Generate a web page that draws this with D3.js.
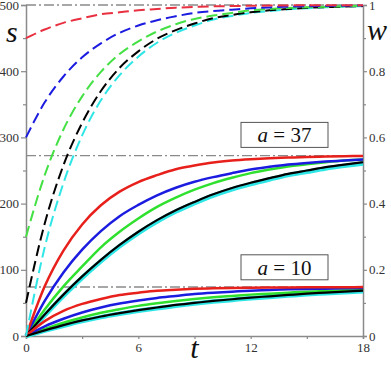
<!DOCTYPE html>
<html><head><meta charset="utf-8">
<script src="https://cdn.jsdelivr.net/npm/d3@7"></script>
<style>body{margin:0;background:#fff}svg{display:block}
svg text{font-family:"Liberation Serif","DejaVu Serif","Times New Roman",serif !important;}
</style>
</head><body>
<svg id="c" width="391" height="366"></svg>
<script>
const T = [0,1,2,3,4,5,6,7,8,9,10,11,12,13,14,15,16,17,18];
// s(t) dashed curves (left axis)
const sRed   = [450,463,473,480,486,489,492,494,496,497,498,498.4,498.8,499.1,499.4,499.5,499.6,499.7,499.8];
const sBlue  = [300,353,392,421,442,458,469,477,483,488,491,493,495,496.4,497.4,498.1,498.6,499,499.2];
const sGreen = [150,243,312,362,399,426,445,460,471,479,484,488,492,494,495.5,496.6,497.5,498.2,498.7];
const sBlack = [50,170,258,322,370,405,430,449,462,472,480,485,489,492,494,495.7,496.8,497.7,498.3];
const sCyan  = [0,134,231,303,356,394,422,443,458,469,478,483.5,488,491,493.5,495.2,496.5,497.5,498.1];
// w(t) solid curves, a = 37 (right axis)
const w37Red   = [0,0.150,0.258,0.337,0.395,0.436,0.465,0.486,0.504,0.515,0.524,0.530,0.534,0.537,0.539,0.541,0.542,0.543,0.544];
const w37Blue  = [0,0.106,0.192,0.261,0.317,0.362,0.396,0.425,0.448,0.466,0.480,0.492,0.503,0.511,0.518,0.523,0.527,0.530,0.533];
const w37Green = [0,0.080,0.150,0.210,0.268,0.315,0.355,0.390,0.418,0.442,0.462,0.478,0.492,0.503,0.512,0.519,0.525,0.530,0.533];
const w37Black = [0,0.065,0.125,0.180,0.230,0.275,0.315,0.350,0.380,0.405,0.428,0.447,0.463,0.477,0.490,0.500,0.510,0.518,0.525];
const w37Cyan  = [0,0.062,0.121,0.176,0.226,0.271,0.311,0.346,0.376,0.401,0.424,0.443,0.459,0.473,0.486,0.496,0.506,0.514,0.521];
// w(t) solid curves, a = 10
const w10Red   = [0,0.045,0.076,0.097,0.112,0.124,0.131,0.137,0.140,0.1425,0.144,0.145,0.1457,0.1463,0.1468,0.147,0.1473,0.1475,0.1477];
const w10Blue  = [0,0.029,0.052,0.071,0.086,0.098,0.107,0.115,0.121,0.127,0.131,0.134,0.137,0.139,0.141,0.142,0.143,0.144,0.145];
const w10Green = [0,0.021,0.040,0.056,0.070,0.081,0.091,0.099,0.106,0.112,0.117,0.121,0.125,0.128,0.131,0.134,0.136,0.138,0.140];
const w10Black = [0,0.017,0.033,0.047,0.059,0.069,0.078,0.086,0.094,0.100,0.106,0.111,0.116,0.120,0.124,0.128,0.131,0.134,0.137];
const w10Cyan  = [0,0.016,0.031,0.045,0.057,0.067,0.076,0.084,0.091,0.098,0.104,0.109,0.114,0.118,0.122,0.126,0.129,0.132,0.135];
const sLevels = [500];
const wLevels = [0.545, 0.148];
const xTicks = [0,6,12,18], xMinor = [3,9,15];
const sTicks = [0,100,200,300,400,500], sMinor = [50,150,250,350,450];
const wTicks = [0,0.2,0.4,0.6,0.8,1], wMinor = [0.1,0.3,0.5,0.7,0.9];
const labels = [{text:"37", w:0.6}, {text:"10", w:0.2}];

const svg = d3.select("#c");
const x = d3.scaleLinear([0,18],[26,363]);
const yS = d3.scaleLinear([0,500],[336,5]);
const yW = d3.scaleLinear([0,1],[336,5]);
const C = {red:"#e8201c", blue:"#1c1ce0", green:"#2fe02f", black:"#000", cyan:"#2fe6e6"};
const axisCol = "#8a8a8a";

function styleAxis(g){
  g.attr("font-family",null);
  g.select(".domain").attr("stroke",axisCol).attr("stroke-width",1.5);
  g.selectAll(".tick line").attr("stroke",axisCol).attr("stroke-width",1.2);
  g.selectAll(".tick text").attr("font-size",13).attr("fill","#333");
}
// axes
svg.append("g").attr("transform","translate(26,0)")
  .call(d3.axisLeft(yS).tickValues(sTicks).tickSize(5).tickPadding(2).tickFormat(d3.format("d"))).call(styleAxis);
svg.append("g").attr("transform","translate(26,0)")
  .call(d3.axisLeft(yS).tickValues(sMinor).tickSize(3).tickFormat("")).call(styleAxis)
  .select(".domain").remove();
svg.append("g").attr("transform","translate(363,0)")
  .call(d3.axisRight(yW).tickValues(wTicks).tickSize(4).tickPadding(2).tickFormat(d=>d===0||d===1?String(d):d3.format(".1f")(d))).call(styleAxis);
svg.append("g").attr("transform","translate(363,0)")
  .call(d3.axisRight(yW).tickValues(wMinor).tickSize(3).tickFormat("")).call(styleAxis)
  .select(".domain").remove();
svg.append("g").attr("transform","translate(0,336)")
  .call(d3.axisBottom(x).tickValues(xTicks).tickSize(3).tickPadding(4)).call(styleAxis);
svg.append("g").attr("transform","translate(0,336)")
  .call(d3.axisBottom(x).tickValues(xMinor).tickSize(3).tickFormat("")).call(styleAxis)
  .select(".domain").remove();

// dash-dot reference lines
const ddash = "10,3,2,3";
sLevels.forEach(v=>svg.append("line").attr("x1",x(0)).attr("x2",x(18)).attr("y1",yS(v)).attr("y2",yS(v))
  .attr("stroke",axisCol).attr("stroke-width",1.3).attr("stroke-dasharray",ddash));
wLevels.forEach(v=>svg.append("line").attr("x1",x(0)).attr("x2",x(18)).attr("y1",yW(v)).attr("y2",yW(v))
  .attr("stroke",axisCol).attr("stroke-width",1.3).attr("stroke-dasharray",ddash));

const lineS = d3.line().x((d,i)=>x(T[i])).y(d=>yS(d)).curve(d3.curveMonotoneX);
const lineW = d3.line().x((d,i)=>x(T[i])).y(d=>yW(d)).curve(d3.curveMonotoneX);

// solid w curves
[[w37Cyan,C.cyan,4.5],[w37Green,C.green,2.5],[w37Blue,C.blue,2.5],[w37Red,C.red,2.5],[w37Black,C.black,2.2],
 [w10Cyan,C.cyan,4.5],[w10Green,C.green,2.5],[w10Blue,C.blue,2.5],[w10Red,C.red,2.5],[w10Black,C.black,2.2]]
 .forEach(([d,c,w])=>svg.append("path").attr("d",lineW(d)).attr("fill","none").attr("stroke",c).attr("stroke-width",w));

// dashed s curves
[[sCyan,C.cyan],[sBlack,C.black],[sGreen,"#44e044"],[sBlue,C.blue],[sRed,"#e83040"]]
 .forEach(([d,c])=>svg.append("path").attr("d",lineS(d)).attr("fill","none").attr("stroke",c)
   .attr("stroke-width",2).attr("stroke-dasharray","11,5"));

// label boxes
labels.forEach(l=>{
  const cy = yW(l.w) - 2;
  svg.append("rect").attr("x",241).attr("y",cy-13).attr("width",87).attr("height",25)
    .attr("fill","#fff").attr("stroke","#555").attr("stroke-width",1);
  const t = svg.append("text").attr("x",284.5).attr("y",cy+7).attr("text-anchor","middle")
    .attr("font-size",21).attr("fill","#111");
  t.append("tspan").attr("font-style","italic").text("a");
  t.append("tspan").text(" = " + l.text);
});

// axis titles
svg.append("text").attr("x",6).attr("y",42).attr("font-style","italic")
  .attr("font-size",30).attr("fill","#111").text("s");
svg.append("text").attr("x",367).attr("y",40).attr("font-style","italic")
  .attr("font-size",30).attr("fill","#111").text("w");
svg.append("text").attr("x",x(9)).attr("y",358).attr("text-anchor","middle").attr("font-style","italic")
  .attr("font-size",30).attr("fill","#111").text("t");
</script>
</body></html>
